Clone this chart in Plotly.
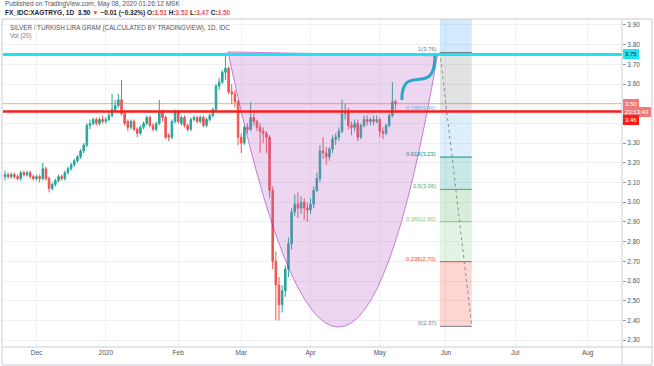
import numpy as np
import pandas as pd
import plotly.graph_objects as go

# ---------------- data ----------------
start_date = "2019-11-18"
end_date = "2020-05-08"
axis_end = "2020-08-31"

opens = [3.13, 3.14, 3.13, 3.14, 3.13, 3.12, 3.15, 3.14, 3.15, 3.13,
         3.12, 3.13, 3.12, 3.17, 3.12, 3.07, 3.09, 3.11, 3.13, 3.12,
         3.15, 3.17, 3.19, 3.21, 3.23, 3.26, 3.29, 3.39, 3.40, 3.42,
         3.40, 3.42, 3.41, 3.42, 3.44, 3.47, 3.49, 3.52, 3.45, 3.41,
         3.38, 3.41, 3.37, 3.35, 3.38, 3.40, 3.43, 3.39, 3.37, 3.40,
         3.46, 3.43, 3.34, 3.33, 3.41, 3.46, 3.40, 3.43, 3.39, 3.37,
         3.42, 3.43, 3.41, 3.43, 3.39, 3.42, 3.44, 3.47, 3.59, 3.61,
         3.66, 3.68, 3.56, 3.55, 3.51, 3.33, 3.30, 3.38, 3.37, 3.43,
         3.41, 3.38, 3.36, 3.35, 3.33, 3.06, 2.70, 2.58, 2.48, 2.55,
         2.66, 2.79, 2.95, 2.99, 2.97, 3.00, 2.97, 2.96, 2.99, 3.06,
         3.12, 3.26, 3.25, 3.23, 3.27, 3.32, 3.33, 3.36, 3.45, 3.46,
         3.39, 3.38, 3.40, 3.33, 3.39, 3.42, 3.41, 3.42, 3.41, 3.42,
         3.36, 3.35, 3.39, 3.44, 3.51]
highs = [3.16, 3.15, 3.15, 3.15, 3.14, 3.16, 3.16, 3.16, 3.16, 3.14,
         3.14, 3.14, 3.20, 3.18, 3.13, 3.10, 3.12, 3.14, 3.14, 3.16,
         3.18, 3.20, 3.22, 3.24, 3.27, 3.30, 3.40, 3.42, 3.43, 3.43,
         3.43, 3.44, 3.43, 3.46, 3.55, 3.52, 3.55, 3.62, 3.46, 3.42,
         3.42, 3.42, 3.38, 3.39, 3.41, 3.44, 3.44, 3.40, 3.41, 3.52,
         3.47, 3.44, 3.35, 3.42, 3.47, 3.47, 3.44, 3.44, 3.40, 3.43,
         3.44, 3.44, 3.44, 3.44, 3.43, 3.45, 3.48, 3.60, 3.63, 3.67,
         3.76, 3.69, 3.60, 3.57, 3.52, 3.35, 3.39, 3.40, 3.51, 3.45,
         3.42, 3.40, 3.38, 3.36, 3.34, 3.08, 2.75, 2.62, 2.58, 2.68,
         2.82, 2.97, 3.04, 3.05, 3.03, 3.02, 3.00, 3.02, 3.08, 3.15,
         3.29, 3.33, 3.28, 3.28, 3.34, 3.35, 3.38, 3.52, 3.50, 3.48,
         3.41, 3.42, 3.42, 3.40, 3.44, 3.44, 3.43, 3.44, 3.44, 3.43,
         3.38, 3.40, 3.45, 3.61, 3.52]
lows = [3.11, 3.12, 3.12, 3.12, 3.11, 3.11, 3.13, 3.13, 3.12, 3.11,
        3.11, 3.10, 3.11, 3.11, 3.05, 3.06, 3.08, 3.10, 3.11, 3.11,
        3.14, 3.16, 3.18, 3.20, 3.22, 3.25, 3.28, 3.37, 3.39, 3.39,
        3.39, 3.40, 3.40, 3.41, 3.43, 3.46, 3.48, 3.44, 3.39, 3.36,
        3.37, 3.36, 3.33, 3.34, 3.37, 3.39, 3.38, 3.36, 3.36, 3.39,
        3.41, 3.32, 3.31, 3.32, 3.40, 3.40, 3.39, 3.38, 3.36, 3.36,
        3.41, 3.40, 3.40, 3.38, 3.38, 3.41, 3.43, 3.46, 3.57, 3.60,
        3.62, 3.55, 3.50, 3.48, 3.29, 3.25, 3.29, 3.35, 3.36, 3.39,
        3.36, 3.25, 3.30, 3.25, 3.02, 2.66, 2.40, 2.40, 2.44, 2.52,
        2.62, 2.76, 2.93, 2.92, 2.94, 2.91, 2.90, 2.94, 2.97, 3.05,
        3.10, 3.22, 3.19, 3.21, 3.25, 3.29, 3.31, 3.35, 3.42, 3.37,
        3.34, 3.36, 3.31, 3.32, 3.38, 3.39, 3.39, 3.39, 3.40, 3.33,
        3.32, 3.34, 3.38, 3.43, 3.47]
closes = [3.14, 3.13, 3.14, 3.13, 3.12, 3.15, 3.14, 3.15, 3.13, 3.12,
          3.13, 3.12, 3.17, 3.12, 3.07, 3.09, 3.11, 3.13, 3.12, 3.15,
          3.17, 3.19, 3.21, 3.23, 3.26, 3.29, 3.39, 3.40, 3.42, 3.40,
          3.42, 3.41, 3.42, 3.44, 3.47, 3.49, 3.52, 3.45, 3.40, 3.38,
          3.41, 3.37, 3.35, 3.38, 3.40, 3.43, 3.39, 3.37, 3.40, 3.46,
          3.43, 3.33, 3.33, 3.41, 3.46, 3.41, 3.43, 3.39, 3.37, 3.42,
          3.43, 3.41, 3.43, 3.39, 3.42, 3.44, 3.47, 3.59, 3.61, 3.66,
          3.68, 3.56, 3.55, 3.51, 3.33, 3.30, 3.38, 3.37, 3.43, 3.41,
          3.38, 3.36, 3.35, 3.33, 3.06, 2.70, 2.58, 2.48, 2.55, 2.66,
          2.79, 2.95, 2.99, 2.97, 3.00, 2.97, 2.96, 2.99, 3.06, 3.12,
          3.26, 3.25, 3.23, 3.27, 3.32, 3.33, 3.36, 3.45, 3.46, 3.39,
          3.38, 3.40, 3.33, 3.39, 3.42, 3.41, 3.42, 3.41, 3.42, 3.36,
          3.35, 3.39, 3.44, 3.51, 3.50]

tick_months = ["2019-12", "2020-01", "2020-02", "2020-03", "2020-04",
               "2020-05", "2020-06", "2020-07", "2020-08"]
tick_labels = ["Dec", "2020", "Feb", "Mar", "Apr", "May", "Jun", "Jul", "Aug"]

price_ticks = [2.30, 2.40, 2.50, 2.60, 2.70, 2.80, 2.90, 3.00, 3.10, 3.20,
               3.30, 3.40, 3.50, 3.60, 3.70, 3.80, 3.90]
hidden_ticks = [3.40, 3.50]

cyan_level = 3.75
red_level = 3.46
last_price = 3.50

# drawings (x in bar units, y in price)
arc_points = [(70.8, 3.763), (107.5, 0.979), (137.3, 3.743)]   # quadratic curve
curve_points = [(126.0, 3.519), (126.0, 3.722), (136.5, 3.519), (136.5, 3.743)]
fib_x = [138.1, 148.2]
fib_low, fib_high = 2.37, 3.76
fib_levels = [0, 0.236, 0.382, 0.5, 0.618, 0.786, 1]
fib_texts = ["0(2.37)", "0.236(2.70)", "0.382(2.90)", "0.5(3.06)",
             "0.618(3.23)", "0.786(3.46)", "1(3.76)"]
fib_colors = ["#787b86", "#f44336", "#81c784", "#4caf50", "#009688",
              "#64b5f6", "#787b86"]

x_range = [-0.63, 195.9]
y_range = [2.265, 3.930]

# ---------------- build ----------------
dates = pd.bdate_range(start_date, end_date)
all_days = pd.bdate_range(start_date, axis_end)
bar_x = np.arange(len(dates))
tick_vals = [int(np.argmax(all_days.strftime("%Y-%m") == m)) for m in tick_months]

FONT = "Liberation Sans, Arial, sans-serif"
GRID = "#eef0f4"
FRAME = "#c9cbd1"
TXT = "#50535e"

fig = go.Figure()
fig.add_trace(go.Candlestick(
    x=bar_x, open=opens, high=highs, low=lows, close=closes,
    increasing=dict(line=dict(color="#26a69a", width=1), fillcolor="#26a69a"),
    decreasing=dict(line=dict(color="#ef5350", width=1), fillcolor="#ef5350"),
    whiskerwidth=0, showlegend=False, hoverinfo="skip",
))

shapes = []
# blue highlight column above the fib
shapes.append(dict(type="rect", xref="x", yref="y", x0=fib_x[0], x1=fib_x[1],
                   y0=fib_high, y1=y_range[1], fillcolor="rgba(33,150,243,0.2)",
                   line=dict(width=0), layer="between"))
# fib bands
def lvl_price(l):
    return fib_low + l * (fib_high - fib_low)

for k in range(1, len(fib_levels)):
    shapes.append(dict(type="rect", xref="x", yref="y", x0=fib_x[0], x1=fib_x[1],
                       y0=lvl_price(fib_levels[k - 1]), y1=lvl_price(fib_levels[k]),
                       fillcolor=fib_colors[k], opacity=0.22, line=dict(width=0),
                       layer="between"))
for l, c in zip(fib_levels, fib_colors):
    shapes.append(dict(type="line", xref="x", yref="y", x0=fib_x[0], x1=fib_x[1],
                       y0=lvl_price(l), y1=lvl_price(l), line=dict(color=c, width=1),
                       layer="between"))
# fib trend line
shapes.append(dict(type="line", xref="x", yref="y", x0=fib_x[0], y0=fib_high,
                   x1=fib_x[1], y1=fib_low,
                   line=dict(color="#8a8d96", width=1, dash="dot"), layer="above"))

# purple arc
(a0, a1, a2) = arc_points
shapes.append(dict(type="path", xref="x", yref="y",
                   path=f"M {a0[0]},{a0[1]} Q {a1[0]},{a1[1]} {a2[0]},{a2[1]} Z",
                   fillcolor="rgba(186,104,200,0.27)",
                   line=dict(color="rgba(156,39,176,0.55)", width=1), layer="above"))

# horizontal lines
shapes.append(dict(type="line", xref="paper", yref="y", x0=0, x1=1,
                   y0=last_price, y1=last_price,
                   line=dict(color="rgba(239,83,80,0.45)", width=1), layer="above"))
shapes.append(dict(type="line", xref="paper", yref="y", x0=0, x1=1,
                   y0=red_level, y1=red_level,
                   line=dict(color="#ff1a1a", width=2.5), layer="above"))
shapes.append(dict(type="line", xref="paper", yref="y", x0=0, x1=1,
                   y0=cyan_level, y1=cyan_level,
                   line=dict(color="#1ee3f0", width=3), layer="above"))

# teal curve
c0, c1, c2, c3 = curve_points
shapes.append(dict(type="path", xref="x", yref="y",
                   path=f"M {c0[0]},{c0[1]} C {c1[0]},{c1[1]} {c2[0]},{c2[1]} {c3[0]},{c3[1]}",
                   line=dict(color="#2aa7c9", width=3), layer="above"))

# frame (in paper coords: plot spans px 3..622 horizontally, 19..347 vertically)
def px_x(p):
    return (p - 3) / 619.0

def px_y(p):
    return (347 - p) / 328.0

shapes.append(dict(type="rect", xref="paper", yref="paper", x0=px_x(2), x1=px_x(652),
                   y0=px_y(365), y1=px_y(19), line=dict(color=FRAME, width=1),
                   fillcolor="rgba(0,0,0,0)", layer="above"))
shapes.append(dict(type="line", xref="paper", yref="paper", x0=1, x1=1,
                   y0=px_y(365), y1=px_y(19), line=dict(color=FRAME, width=1), layer="above"))
shapes.append(dict(type="line", xref="paper", yref="paper", x0=px_x(2), x1=px_x(652),
                   y0=0, y1=0, line=dict(color=FRAME, width=1), layer="above"))

ann = []
ann.append(dict(xref="paper", yref="paper", x=px_x(3), y=px_y(4), xanchor="left",
                yanchor="middle", showarrow=False,
                text="Published on TradingView.com, May 08, 2020 01:26:12 MSK",
                font=dict(size=6.5, color=TXT, family=FONT)))
red = "#ef5350"
line2 = (f"<b>FX_IDC:XAGTRYG, 1D  3.50 <span style='color:{red}'>▼</span> −0.01 (−0.32%) "
         f"O:<span style='color:{red}'>3.51</span> H:<span style='color:{red}'>3.52</span> "
         f"L:<span style='color:{red}'>3.47</span> C:<span style='color:{red}'>3.50</span></b>")
ann.append(dict(xref="paper", yref="paper", x=px_x(3), y=px_y(13), xanchor="left",
                yanchor="middle", showarrow=False, text=line2,
                font=dict(size=6.5, color="#1e222d", family=FONT)))
ann.append(dict(xref="paper", yref="paper", x=px_x(8), y=px_y(28), xanchor="left",
                yanchor="middle", showarrow=False,
                text="SILVER / TURKISH LIRA GRAM (CALCULATED BY TRADINGVIEW), 1D, IDC",
                font=dict(size=6.3, color=TXT, family=FONT)))
ann.append(dict(xref="paper", yref="paper", x=px_x(8), y=px_y(36), xanchor="left",
                yanchor="middle", showarrow=False, text="Vol (20)",
                font=dict(size=6.3, color="#787b86", family=FONT)))

# fib labels
for l, t, c in zip(fib_levels, fib_texts, fib_colors):
    ann.append(dict(xref="x", yref="y", x=fib_x[0], y=lvl_price(l), xanchor="right",
                    yanchor="bottom", xshift=-2, yshift=-2, showarrow=False, text=t,
                    font=dict(size=5.8, color=c, family=FONT)))

# price axis labels
def axis_box(y, text, bg, fg):
    return dict(xref="paper", yref="y", x=1, y=y, xanchor="left", yanchor="middle",
                xshift=1, showarrow=False, text=text, bgcolor=bg, bordercolor=bg,
                borderpad=1, font=dict(size=6, color=fg, family=FONT))

ann.append(axis_box(cyan_level, "3.75", "#1ee3f0", "#1e222d"))
ann.append(axis_box(last_price, "3.50", "#f07a77", "white"))
ann.append(axis_box(3.458, "23:13:43", "#f07a77", "white"))
ann.append(axis_box(3.415, "3.46", "#ff1a1a", "white"))

tick_text = ["" if any(abs(v - h) < 1e-9 for h in hidden_ticks) else f"{v:.2f}"
             for v in price_ticks]

fig.update_layout(
    width=654, height=366,
    margin=dict(l=3, r=32, t=19, b=19),
    paper_bgcolor="white", plot_bgcolor="white",
    font=dict(family=FONT, size=6.5, color=TXT),
    shapes=shapes, annotations=ann, showlegend=False,
    xaxis=dict(range=x_range, tickvals=tick_vals, ticktext=tick_labels,
               showgrid=True, gridcolor=GRID, gridwidth=1, zeroline=False,
               showline=False, ticks="", tickfont=dict(size=6.5, color=TXT),
               rangeslider=dict(visible=False), fixedrange=True),
    yaxis=dict(range=y_range, side="right", tickvals=price_ticks, ticktext=tick_text,
               showgrid=True, gridcolor=GRID, gridwidth=1, zeroline=False,
               showline=False, ticks="outside", ticklen=3, tickcolor="#9598a1",
               tickfont=dict(size=6.5, color=TXT), fixedrange=True),
)

fig.write_html("out.html", config={"displayModeBar": False},
               post_script="document.body.style.margin='0';")
